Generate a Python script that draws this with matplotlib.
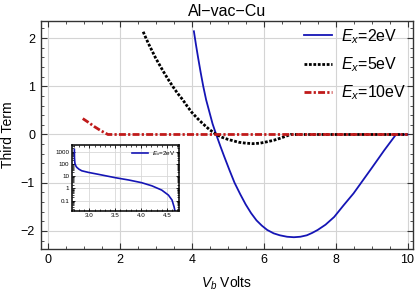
import matplotlib
matplotlib.use("Agg")
import matplotlib.pyplot as plt
from matplotlib.ticker import (MultipleLocator, FixedLocator, FixedFormatter,
                               NullFormatter, LogLocator, FuncFormatter)

plt.rcParams['font.family'] = ['Liberation Sans', 'DejaVu Sans']
plt.rcParams['mathtext.fontset'] = 'custom'
plt.rcParams['mathtext.rm'] = 'Liberation Sans'
plt.rcParams['mathtext.it'] = 'Liberation Sans:italic'

# Ex = 2 eV
v2 = [4.06, 4.12, 4.18, 4.25, 4.32, 4.40, 4.49, 4.58, 4.68, 4.80, 4.90, 5.05,
      5.19, 5.35, 5.50, 5.65, 5.80, 5.95, 6.10, 6.28, 6.45, 6.65, 6.84, 7.02,
      7.20, 7.35, 7.50, 7.72, 7.96, 8.22, 8.50, 8.75, 9.00, 9.18, 9.35, 9.52,
      9.68, 10.0]
t2 = [2.14, 1.85, 1.58, 1.28, 1.00, 0.72, 0.47, 0.22, 0.00, -0.25, -0.45, -0.74,
      -1.00, -1.24, -1.45, -1.63, -1.78, -1.89, -1.98, -2.05, -2.09, -2.12, -2.13, -2.12,
      -2.09, -2.04, -1.98, -1.87, -1.71, -1.47, -1.22, -0.96, -0.70, -0.51, -0.33, -0.16,
      0.00, 0.00]
# Ex = 5 eV
v5 = [2.65, 2.72, 2.80, 2.90, 3.00, 3.10, 3.20, 3.33, 3.47, 3.60, 3.75, 3.88,
      4.00, 4.15, 4.30, 4.48, 4.68, 4.85, 5.00, 5.15, 5.30, 5.50, 5.70, 5.90,
      6.10, 6.28, 6.45, 6.60, 6.75, 10.0]
t5 = [2.13, 2.01, 1.88, 1.73, 1.58, 1.45, 1.32, 1.16, 1.00, 0.86, 0.72, 0.58,
      0.46, 0.34, 0.23, 0.11, 0.00, -0.06, -0.10, -0.13, -0.16, -0.18, -0.19, -0.18,
      -0.15, -0.12, -0.08, -0.04, 0.00, 0.00]
# Ex = 10 eV
v10 = [0.97, 1.13, 1.30, 1.47, 1.67, 10.0]
t10 = [0.33, 0.25, 0.16, 0.08, 0.00, 0.00]

# inset, Ex = 2 eV on log scale
vi = [2.710, 2.712, 2.720, 2.740, 2.756, 2.800, 2.853, 2.980, 3.170, 3.500, 3.760,
      4.010, 4.210, 4.400, 4.530, 4.600, 4.640, 4.660]
ti = [1500, 300, 110, 65, 52, 36, 27, 20, 14, 7.4, 4.8,
      2.9, 1.6, 0.72, 0.28, 0.11, 0.03, 0.012]

labels = ['$E_x$=2eV', '$E_x$=5eV', '$E_x$=10eV']
blue = '#1515b5'
red = '#c01a1a'
frame = '#333333'

fig = plt.figure(figsize=(4.15, 2.91), dpi=100)
ax = fig.add_axes([0.098, 0.145, 0.897, 0.784])

ax.plot(v2, t2, color=blue, lw=1.3, label=labels[0], zorder=3)
ax.plot(v5, t5, color='black', lw=2.0, ls=(0, (1, 0.6)), label=labels[1], zorder=3)
ax.plot(v10, t10, color=red, lw=2.0, ls=(0, (2.5, 0.8, 0.8, 0.8)), label=labels[2], zorder=4)

ax.set_xlim(-0.2, 10.15)
ax.set_ylim(-2.37, 2.36)
ax.xaxis.set_major_locator(MultipleLocator(2))
ax.xaxis.set_minor_locator(MultipleLocator(0.5))
ax.yaxis.set_major_locator(MultipleLocator(1))
ax.yaxis.set_minor_locator(MultipleLocator(0.2))
ax.yaxis.set_major_formatter(FuncFormatter(
    lambda v, p: ('\u2212%d' % abs(v)) if v < 0 else '%d' % v))
ax.tick_params(which='both', direction='in', top=True, right=True, color=frame,
               labelsize=9, pad=4)
ax.tick_params(which='major', length=4, width=0.8)
ax.tick_params(which='minor', length=2, width=0.6)
ax.grid(True, which='major', color='#d4d4d4', lw=0.8)
for s in ax.spines.values():
    s.set_color(frame)
    s.set_linewidth(1.0)

ax.set_title('Al\u2212vac\u2212Cu', fontsize=11.5, pad=3)
ax.set_xlabel('$V_b$ Volts', fontsize=10, labelpad=6)
ax.set_ylabel('Third Term', fontsize=10, labelpad=4)

ax.legend(loc='upper right', bbox_to_anchor=(1.0, 1.0), frameon=False,
          fontsize=11.5, handlelength=1.7, handletextpad=0.6,
          labelspacing=0.6, borderaxespad=0.2, borderpad=0.2)

# inset
ins = fig.add_axes([0.173, 0.276, 0.259, 0.225])
ins.patch.set_alpha(0)
ins.plot(vi, ti, color=blue, lw=1.2, label=labels[0])
ins.set_yscale('log')
ins.set_xlim(2.66, 4.74)
ins.set_ylim(0.015, 3300)
ins.xaxis.set_major_locator(FixedLocator([3.0, 3.5, 4.0, 4.5]))
ins.xaxis.set_major_formatter(FixedFormatter(['3.0', '3.5', '4.0', '4.5']))
ins.xaxis.set_minor_locator(MultipleLocator(0.1))
ins.yaxis.set_major_locator(FixedLocator([0.1, 1, 10, 100, 1000]))
ins.yaxis.set_major_formatter(FixedFormatter(['0.1', '1', '10', '100', '1000']))
ins.yaxis.set_minor_locator(LogLocator(subs=range(2, 10)))
ins.yaxis.set_minor_formatter(NullFormatter())
ins.tick_params(which='both', direction='in', top=True, right=True, labelsize=4.5, pad=2)
ins.tick_params(which='major', length=2.5, width=0.6)
ins.tick_params(which='minor', length=1.3, width=0.5)
ins.grid(True, which='major', color='#d8d8d8', lw=0.6)
for s in ins.spines.values():
    s.set_color('black')
    s.set_linewidth(1.1)
ins.legend(loc='upper right', frameon=False, fontsize=4.5, handlelength=2.5,
           handletextpad=0.6, borderaxespad=0.3)

fig.savefig('out.png', dpi=100)
